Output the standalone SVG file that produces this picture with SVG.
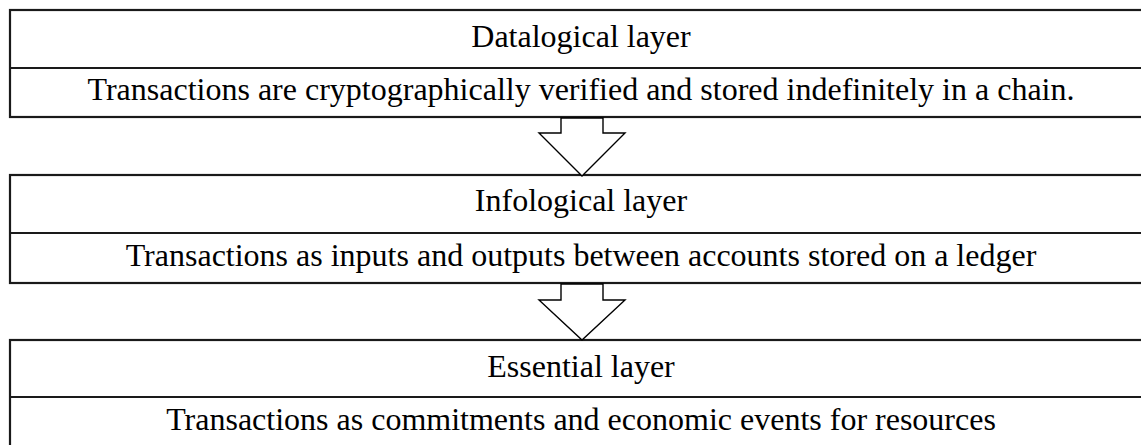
<svg xmlns="http://www.w3.org/2000/svg" width="1141" height="445" viewBox="0 0 1141 445">
<style>
.box{fill:#fff;stroke:#1a1a1a;stroke-width:2.2}
.div{stroke:#1a1a1a;stroke-width:2}
.t{font-family:"Liberation Serif","Times New Roman",serif;font-size:32px;fill:#000;text-anchor:middle}
.arr{fill:#fff;stroke:#000;stroke-width:1.4;stroke-linejoin:miter}
</style>
<rect width="1141" height="445" fill="#fff"/>
<g id="datalogical">
<rect class="box" x="10" y="10" width="1142" height="107"/>
<line class="div" x1="10" y1="68" x2="1152" y2="68"/>
<text class="t" x="581" y="47">Datalogical layer</text>
<text class="t" x="581" y="100">Transactions are cryptographically verified and stored indefinitely in a chain.</text>
</g>
<g id="infological">
<rect class="box" x="10" y="175" width="1142" height="108"/>
<line class="div" x1="10" y1="233" x2="1152" y2="233"/>
<text class="t" x="581" y="211">Infological layer</text>
<text class="t" x="581" y="266">Transactions as inputs and outputs between accounts stored on a ledger</text>
</g>
<g id="essential">
<rect class="box" x="10" y="340" width="1142" height="120"/>
<line class="div" x1="10" y1="397" x2="1152" y2="397"/>
<text class="t" x="581" y="377">Essential layer</text>
<text class="t" x="581" y="430">Transactions as commitments and economic events for resources</text>
</g>
<g id="connectors">
<polygon class="arr" points="561,118 561,133 539,133 582,176 625,133 603,133 603,118"/>
<polygon class="arr" points="561,284 561,300 539,300 582,340 625,300 603,300 603,284"/>
</g>
</svg>
